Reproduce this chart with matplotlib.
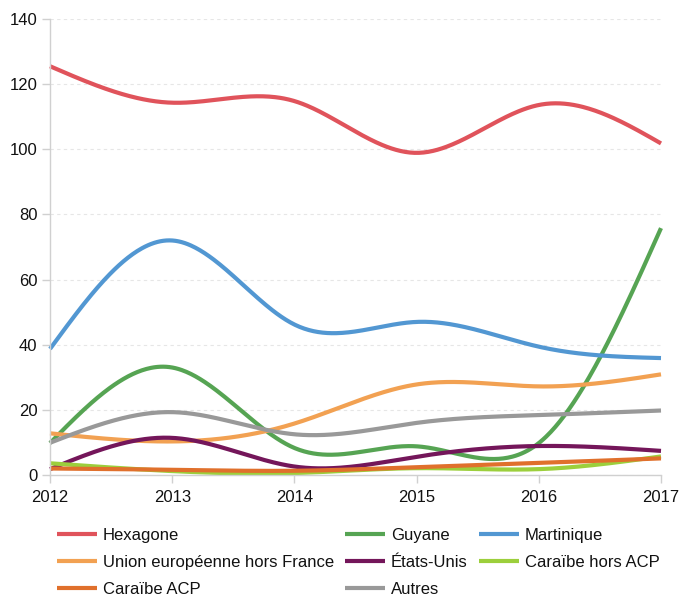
import numpy as np
import matplotlib
matplotlib.use("Agg")
import matplotlib.pyplot as plt

plt.rcParams['font.family'] = ['Liberation Sans', 'DejaVu Sans']

years = [2012, 2013, 2014, 2015, 2016, 2017]
hexagone = [125.5, 114.3, 114.8, 98.9, 113.6, 101.8]
guyane = [9.8, 33.0, 8.3, 8.8, 9.8, 75.8]
martinique = [38.7, 72.0, 46.2, 47.0, 39.4, 35.9]
union_eu = [12.8, 10.3, 15.8, 27.8, 27.2, 30.9]
etats_unis = [1.8, 11.4, 2.6, 5.6, 8.9, 7.4]
caraibe_hors_acp = [3.6, 1.2, 0.6, 2.1, 1.8, 5.7]
caraibe_acp = [2.0, 1.6, 1.3, 2.4, 3.7, 5.1]
autres = [9.9, 19.3, 12.5, 16.0, 18.4, 19.8]

labels = ["Hexagone", "Guyane", "Martinique", "Union européenne hors France",
          "États-Unis", "Caraïbe hors ACP", "Caraïbe ACP", "Autres"]
series = [hexagone, guyane, martinique, union_eu, etats_unis,
          caraibe_hors_acp, caraibe_acp, autres]
colors = ["#e0535b", "#56a453", "#5297d2", "#f2a152", "#74165a",
          "#9ccf3c", "#e0702c", "#999999"]


def natural_spline(x, y, n=400):
    x = np.asarray(x, float)
    y = np.asarray(y, float)
    m = len(x)
    h = np.diff(x)
    A = np.zeros((m, m))
    b = np.zeros(m)
    A[0, 0] = 1
    A[-1, -1] = 1
    for i in range(1, m - 1):
        A[i, i - 1] = h[i - 1]
        A[i, i] = 2 * (h[i - 1] + h[i])
        A[i, i + 1] = h[i]
        b[i] = 6 * ((y[i + 1] - y[i]) / h[i] - (y[i] - y[i - 1]) / h[i - 1])
    M = np.linalg.solve(A, b)
    xs = np.linspace(x[0], x[-1], n)
    ys = np.empty_like(xs)
    for k, xv in enumerate(xs):
        i = min(np.searchsorted(x, xv, side='right') - 1, m - 2)
        t1 = x[i + 1] - xv
        t0 = xv - x[i]
        hi = h[i]
        ys[k] = (M[i] * t1 ** 3 / (6 * hi) + M[i + 1] * t0 ** 3 / (6 * hi)
                 + (y[i] / hi - M[i] * hi / 6) * t1
                 + (y[i + 1] / hi - M[i + 1] * hi / 6) * t0)
    return xs, ys


fig = plt.figure(figsize=(6.8, 5.96), dpi=100)
ax = fig.add_axes([50 / 680, 1 - 475 / 596, 611 / 680, 456 / 596])

handles = []
for s, lab, c in zip(series, labels, colors):
    xs, ys = natural_spline(years, s)
    ln, = ax.plot(xs, ys, color=c, lw=3.0, label=lab, clip_on=False,
                  solid_capstyle='butt')
    handles.append(ln)

ax.set_xlim(2012, 2017)
ax.set_ylim(0, 140)
ax.set_xticks(years)
ax.set_xticklabels([str(y) for y in years])
ax.set_yticks(range(0, 141, 20))
ax.tick_params(axis='both', labelsize=12, color='#d0d0d0', length=6,
               width=1, labelcolor='#111111')
ax.tick_params(axis='x', pad=5)
ax.tick_params(axis='y', pad=3)
for sp in ['top', 'right']:
    ax.spines[sp].set_visible(False)
for sp in ['left', 'bottom']:
    ax.spines[sp].set_color('#d0d0d0')
    ax.spines[sp].set_linewidth(1)
ax.yaxis.grid(True, color='#e6e6e6', linestyle=(0, (3, 3)), linewidth=0.8)
ax.set_axisbelow(True)

order = [0, 3, 6, 1, 4, 7, 2, 5]
leg = fig.legend([handles[i] for i in order], [labels[i] for i in order],
                 ncol=3, loc='upper left',
                 bbox_to_anchor=(57 / 680, 1 - 528 / 596),
                 frameon=False, fontsize=12, handlelength=2.4,
                 handletextpad=0.36, columnspacing=0.65, labelspacing=0.72,
                 borderpad=0, borderaxespad=0)
for t in leg.get_texts():
    t.set_color('#111111')

fig.savefig("out.png", dpi=100)
